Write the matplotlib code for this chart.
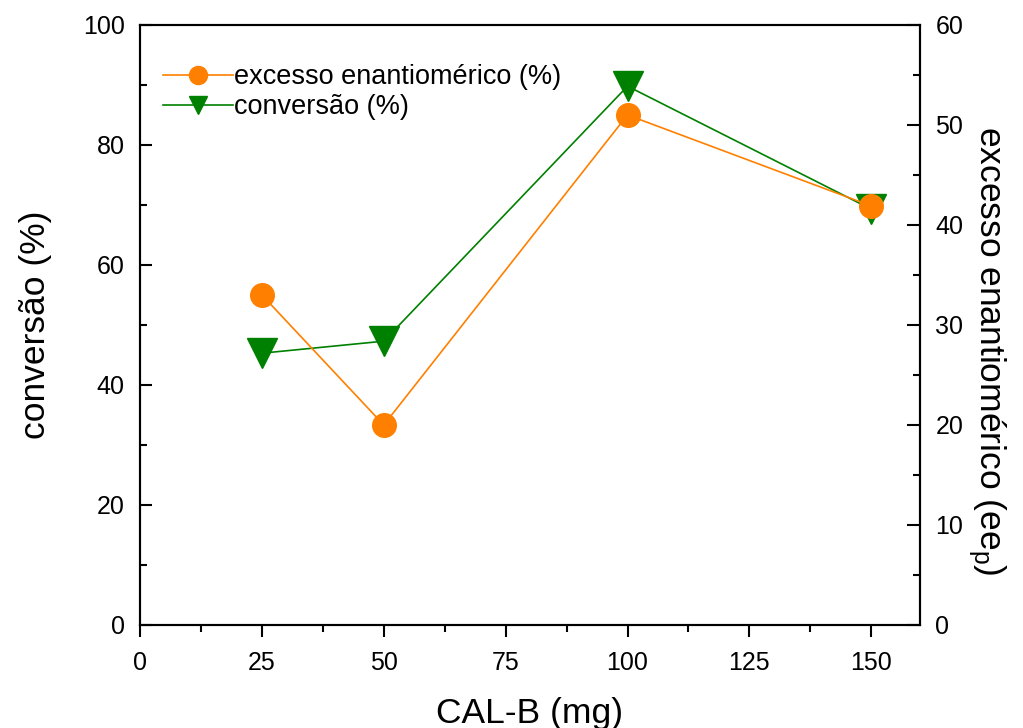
import matplotlib
matplotlib.use("Agg")
import matplotlib.pyplot as plt
from matplotlib.ticker import MultipleLocator

plt.rcParams['font.family'] = ['Liberation Sans', 'DejaVu Sans']
plt.rcParams['mathtext.fontset'] = 'custom'
plt.rcParams['mathtext.rm'] = 'Liberation Sans'

cal_b = [25, 50, 100, 150]
conversao = [45.3, 47.3, 89.8, 69.3]
excesso = [33.0, 20.0, 51.0, 41.9]

orange = '#ff8000'
green = '#008000'

fig = plt.figure(figsize=(10.23, 7.28), dpi=100)
ax = fig.add_axes([0.1369, 0.1415, 0.7624, 0.8242])
ax2 = ax.twinx()

l_conv, = ax.plot(cal_b, conversao, '-', color=green, lw=1.2,
                  marker='v', ms=21, mfc=green, mec=green, label='conversão (%)')
l_ee, = ax2.plot(cal_b, excesso, '-', color=orange, lw=1.2,
                 marker='o', ms=17, mfc=orange, mec=orange, label='excesso enantiomérico (%)')

ax.set_xlim(0, 160)
ax.set_ylim(0, 100)
ax2.set_ylim(0, 60)

ax.xaxis.set_major_locator(MultipleLocator(25))
ax.xaxis.set_minor_locator(MultipleLocator(12.5))
ax.yaxis.set_major_locator(MultipleLocator(20))
ax.yaxis.set_minor_locator(MultipleLocator(10))
ax2.yaxis.set_major_locator(MultipleLocator(10))
ax2.yaxis.set_minor_locator(MultipleLocator(5))

for a in (ax, ax2):
    for s in a.spines.values():
        s.set_linewidth(1.5)
# y ticks point inward, x ticks point outward
ax.tick_params(axis='x', which='major', direction='out', length=8.6, width=1.5,
               labelsize=18, pad=10)
ax.tick_params(axis='x', which='minor', direction='out', length=5, width=1.5)
ax.tick_params(axis='y', which='major', direction='in', length=8.6, width=1.5,
               labelsize=18, pad=11)
ax.tick_params(axis='y', which='minor', direction='in', length=5, width=1.5)
ax.tick_params(axis='both', which='both', top=False, right=False)
ax2.tick_params(axis='y', which='major', direction='in', length=9.5, width=1.5,
                labelsize=18, pad=11)
ax2.tick_params(axis='y', which='minor', direction='in', length=5, width=1.5)
ax2.tick_params(axis='y', which='both', left=False, right=True)

ax.set_xlabel('CAL-B (mg)', fontsize=25.5, labelpad=16)
ax.set_ylabel('conversão (%)', fontsize=25.5, labelpad=22)
ax2.set_ylabel('excesso enantiomérico (ee$_\\mathregular{p}$)', fontsize=25.5,
               rotation=-90)
ax2.yaxis.set_label_coords(1.112, 0.457)

leg = ax2.legend(handles=[l_ee, l_conv], loc='upper left', bbox_to_anchor=(0.015, 0.953),
                 frameon=False, fontsize=19.5, handlelength=2.6, handletextpad=0.05,
                 labelspacing=0.15, borderaxespad=0)
for h in leg.legend_handles:
    h.set_markersize(13)

fig.savefig('out.png', dpi=100)
